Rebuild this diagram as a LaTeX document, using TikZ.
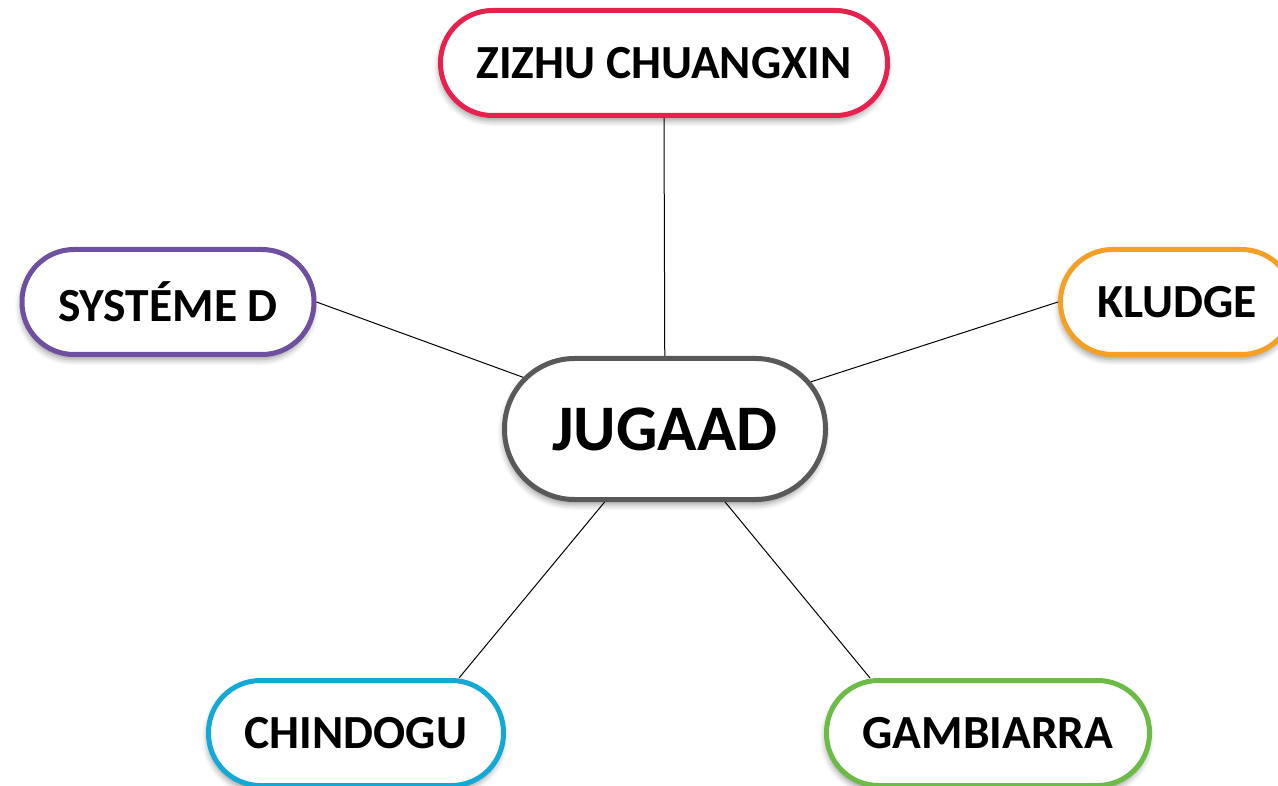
\documentclass[tikz,border=0pt]{standalone}
\usepackage{fontspec}
\setmainfont{Carlito}
\usetikzlibrary{calc,shadows.blur}

\definecolor{cred}{HTML}{E8204E}
\definecolor{cpurple}{HTML}{6F4F9F}
\definecolor{corange}{HTML}{F4A024}
\definecolor{cgrey}{HTML}{595959}
\definecolor{cblue}{HTML}{12A9D6}
\definecolor{cgreen}{HTML}{6CBB47}

\tikzset{
  pill/.style={draw=#1, line width=5pt, fill=white, rectangle,
    rounded corners=52pt, minimum height=105pt, inner sep=0pt,
    font=\fontsize{47.5pt}{54pt}\selectfont\bfseries,
    blur shadow={shadow xshift=-1pt, shadow yshift=-5pt,
      shadow blur radius=6pt, shadow opacity=40}},
  hub/.style={pill=cgrey, rounded corners=70pt, minimum height=141pt,
    minimum width=321pt, font=\fontsize{65pt}{72pt}\selectfont\bfseries},
  link/.style={draw=black, line width=1pt}
}

\begin{document}
\begin{tikzpicture}[x=1pt,y=-1pt]
  \useasboundingbox (0,0) rectangle (1278,786);
  \clip (0,0) rectangle (1278,786);

  % outer terms and the hub
  \node[pill=cred,    minimum width=447pt] (zizhu) at (664,63)  {ZIZHU CHUANGXIN};
  \node[pill=cpurple, minimum width=292pt] (syst)  at (168,302) {SYSTÉME D};
  \node[pill=corange, minimum width=233pt] (klud)  at (1177,302) {KLUDGE};
  \node[pill=cblue,   minimum width=295pt] (chin)  at (356,733) {CHINDOGU};
  \node[pill=cgreen,  minimum width=323pt] (gamb)  at (988,733) {GAMBIARRA};

  % connectors, drawn before the hub so it covers their ends
  \draw[link] (zizhu.south) -- (665,429);
  \draw[link] (syst.east) -- (665,429);
  \draw[link] (klud.west) -- (665,429);
  \draw[link] ($(chin.north)+(103,0)$) -- (665,429);
  \draw[link] ($(gamb.north)+(-118,0)$) -- (665,429);

  \node[hub] (jug) at (665,429) {JUGAAD};
\end{tikzpicture}
\end{document}
